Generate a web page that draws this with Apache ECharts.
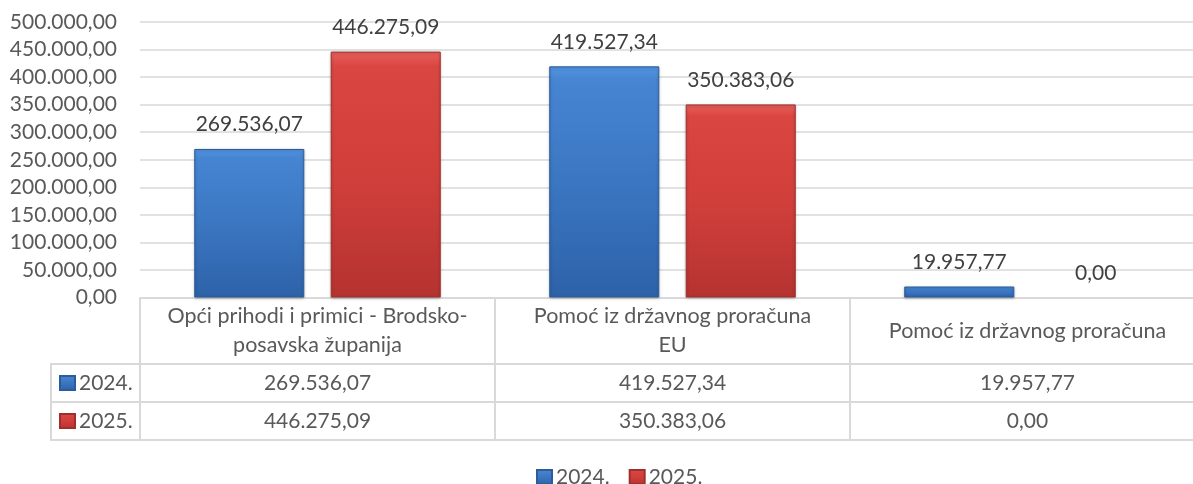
<!DOCTYPE html>
<html>
<head>
<meta charset="utf-8">
<script src="https://cdn.jsdelivr.net/npm/echarts@6/dist/echarts.min.js"></script>
<style>
html,body{margin:0;padding:0;background:#fff;}
#c{width:1193px;height:484px;}
</style>
</head>
<body>
<div id="c"></div>
<script>
const categories = ['Opći prihodi i primici - Brodsko-posavska županija', 'Pomoć iz državnog proračuna EU', 'Pomoć iz državnog proračuna'];
const categoryHeaders = ['Opći prihodi i primici - Brodsko-\nposavska županija', 'Pomoć iz državnog proračuna\nEU', 'Pomoć iz državnog proračuna'];
const seriesNames = ['2024.', '2025.'];
const values2024 = [269536.07, 419527.34, 19957.77];
const values2025 = [446275.09, 350383.06, 0.00];
const yMin = 0, yMax = 500000, yStep = 50000;

function fmt(v) {
  const p = Number(v).toFixed(2).split('.');
  return p[0].replace(/\B(?=(\d{3})+(?!\d))/g, '.') + ',' + p[1];
}

const FONT = 'Lato';
const GRAY = '#595959';
const LINE = '#d9d9d9';

const blueGrad = new echarts.graphic.LinearGradient(0, 0, 0, 1, [
  {offset: 0, color: '#5294e0'},
  {offset: 0.06, color: '#4685d2'},
  {offset: 0.5, color: '#3b76c2'},
  {offset: 1, color: '#2d62a8'}
]);
const redGrad = new echarts.graphic.LinearGradient(0, 0, 0, 1, [
  {offset: 0, color: '#e8605b'},
  {offset: 0.06, color: '#da4642'},
  {offset: 0.5, color: '#d13f3b'},
  {offset: 1, color: '#b53330'}
]);

function barData(vals) {
  return vals.map(v => v === 0
    ? {value: v, itemStyle: {borderWidth: 0, shadowBlur: 0, shadowOffsetY: 0, shadowColor: 'transparent'}}
    : v);
}

const chart = echarts.init(document.getElementById('c'), null, {renderer: 'canvas'});

const labelStyle = {show: true, position: 'top', distance: 14, fontFamily: FONT, fontSize: 21, color: '#404040', formatter: p => fmt(p.value)};

const legendText = {fontFamily: FONT, fontSize: 21, color: GRAY, lineHeight: 21, padding: [0,0,0,-1]};

chart.setOption({
  animation: false,
  backgroundColor: '#ffffff',
  textStyle: {fontFamily: FONT},
  grid: {left: 140, top: 22, width: 1065, height: 275.5, containLabel: false, outerBoundsMode: 'none'},
  legend: [
    {
      data: seriesNames, orient: 'horizontal', left: 536, top: 466.5, padding: 0,
      icon: 'rect', itemWidth: 15, itemHeight: 14, itemGap: 19,
      textStyle: legendText, selectedMode: false
    },
    {
      data: seriesNames, orient: 'vertical', left: 59, top: 372.5, padding: 0,
      icon: 'rect', itemWidth: 15, itemHeight: 14, itemGap: 17,
      textStyle: legendText, selectedMode: false
    }
  ],
  xAxis: [
    {
      type: 'category', data: categories, position: 'bottom',
      axisLine: {show: true, lineStyle: {color: LINE, width: 2}},
      axisTick: {show: true, length: 142.5, lineStyle: {color: LINE, width: 2}},
      axisLabel: {interval: 0, fontFamily: FONT, fontSize: 21.5, color: GRAY, lineHeight: 29, margin: 33.5, verticalAlign: 'middle', align: 'center',
        formatter: (v, i) => categoryHeaders[i]}
    },
    {
      type: 'category', data: values2024.map(fmt), position: 'bottom', offset: 66.5,
      axisLine: {show: false}, axisTick: {show: false},
      axisLabel: {interval: 0, fontFamily: FONT, fontSize: 21, color: GRAY, margin: 19, verticalAlign: 'middle'}
    },
    {
      type: 'category', data: values2025.map(fmt), position: 'bottom', offset: 104.5,
      axisLine: {show: false}, axisTick: {show: false},
      axisLabel: {interval: 0, fontFamily: FONT, fontSize: 21, color: GRAY, margin: 19, verticalAlign: 'middle'}
    }
  ],
  yAxis: {
    type: 'value', min: yMin, max: yMax, interval: yStep,
    axisLine: {show: false}, axisTick: {show: false},
    splitLine: {lineStyle: {color: LINE, width: 1.5}},
    axisLabel: {fontFamily: FONT, fontSize: 21, color: GRAY, margin: 23, formatter: v => fmt(v)}
  },
  series: [
    {
      name: seriesNames[0], type: 'bar', data: barData(values2024), xAxisIndex: 0,
      barWidth: '31%', barGap: '24%',
      itemStyle: {color: blueGrad, borderColor: '#2c5c9a', borderWidth: 1, shadowColor: 'rgba(0,0,0,0.25)', shadowBlur: 3, shadowOffsetY: 1},
      label: labelStyle
    },
    {
      name: seriesNames[1], type: 'bar', data: barData(values2025), xAxisIndex: 0,
      barWidth: '31%', barGap: '24%',
      itemStyle: {color: redGrad, borderColor: '#a02f2c', borderWidth: 1, shadowColor: 'rgba(0,0,0,0.25)', shadowBlur: 3, shadowOffsetY: 1},
      label: labelStyle
    }
  ],
  graphic: [
    {type: 'line', silent: true, shape: {x1: 51, y1: 364, x2: 1193, y2: 364}, style: {stroke: LINE, lineWidth: 2}},
    {type: 'line', silent: true, shape: {x1: 51, y1: 402, x2: 1193, y2: 402}, style: {stroke: LINE, lineWidth: 2}},
    {type: 'line', silent: true, shape: {x1: 51, y1: 440, x2: 1193, y2: 440}, style: {stroke: LINE, lineWidth: 2}},
    {type: 'line', silent: true, shape: {x1: 51, y1: 363, x2: 51, y2: 441}, style: {stroke: LINE, lineWidth: 2}}
  ]
});
</script>
</body>
</html>
